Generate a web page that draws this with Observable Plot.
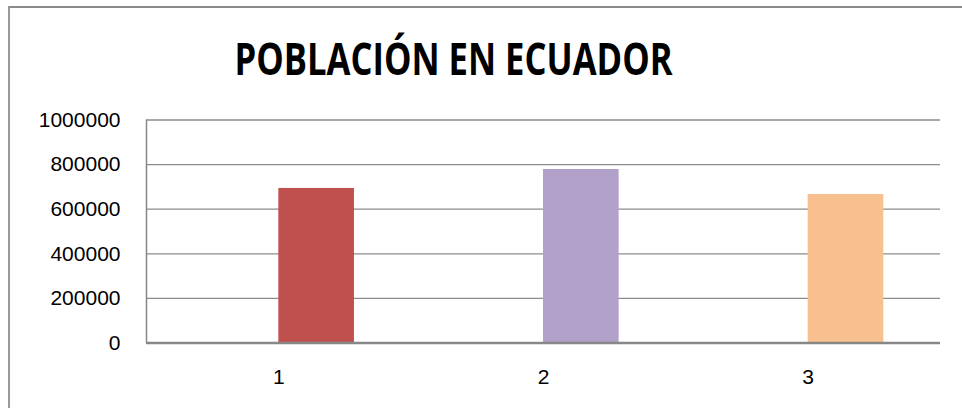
<!DOCTYPE html>
<html>
<head>
<meta charset="utf-8">
<script src="https://cdn.jsdelivr.net/npm/d3@7"></script>
<script src="https://cdn.jsdelivr.net/npm/@observablehq/plot@0.6"></script>
<style>
  html, body { margin: 0; padding: 0; background: #fff; }
  #chart { position: relative; width: 962px; height: 408px; overflow: hidden; background: #fff; }
  #border { position: absolute; left: 8px; top: 6px; right: -10px; bottom: -10px; border-left: 2px solid #9a9a9a; border-top: 2px solid #8a8a8a; pointer-events: none; }
  #title { position: absolute; left: 0; top: 0; width: 908px; height: 90px; text-align: center; }
  #title span { display: inline-block; font-family: "Open Sans", sans-serif; font-weight: 700; font-size: 44px; line-height: 1; color: #000; margin-top: 36px; transform-origin: center; white-space: nowrap; }
  #plot { position: absolute; left: 0; top: 90px; }
</style>
</head>
<body>
<div id="chart">
  <div id="title"><span id="tspan">POBLACIÓN EN ECUADOR</span></div>
  <div id="plot"></div>
  <div id="border"></div>
</div>
<script>
const categories = [1, 2, 3];
const values = [693000, 778000, 666000];
const colors = ["#C0504D", "#B1A0C7", "#F9C08F"];
const yTicks = [0, 200000, 400000, 600000, 800000, 1000000];
const xTicks = [1, 2, 3];

// Excel-like layout: two series per category (first empty), gap width 150%
const barWidth = 1 / (2 + 1.5);

const data = categories.map((c, i) => ({cat: c, value: values[i], color: colors[i]}));

const plot = Plot.plot({
  width: 962,
  height: 318,
  marginLeft: 146,
  marginRight: 22,
  marginTop: 29.5,
  marginBottom: 65.5,
  style: {fontFamily: "'Liberation Sans', Arial, sans-serif", fontSize: "21px", color: "#000", background: "transparent"},
  x: {type: "linear", domain: [0.5, 3.5], label: null},
  y: {domain: [0, 1000000], label: null},
  marks: [
    Plot.ruleY(yTicks.slice(1), {stroke: "#8c8c8c", strokeWidth: 1.3}),
    Plot.rectY(data, {x1: "cat", x2: d => d.cat + barWidth, y1: 0, y2: "value", fill: "color"}),
    Plot.ruleY([0], {stroke: "#878787", strokeWidth: 2.5}),
    Plot.ruleX([0.5], {stroke: "#878787", strokeWidth: 1.5}),
    Plot.axisY({ticks: yTicks, tickSize: 0, tickPadding: 26, tickFormat: d => String(d), fontSize: 21, label: null, style: {letterSpacing: "1.2px"}}),
    Plot.axisX({ticks: xTicks, tickSize: 0, tickPadding: 26, tickFormat: d => String(d), fontSize: 21, label: null, anchor: "bottom"})
  ]
});
document.getElementById("plot").appendChild(plot);

// fit title width to reference (~438px)
const ts = document.getElementById("tspan");
const w = ts.getBoundingClientRect().width;
ts.style.transform = `scaleX(${438 / w})`;
</script>
</body>
</html>
